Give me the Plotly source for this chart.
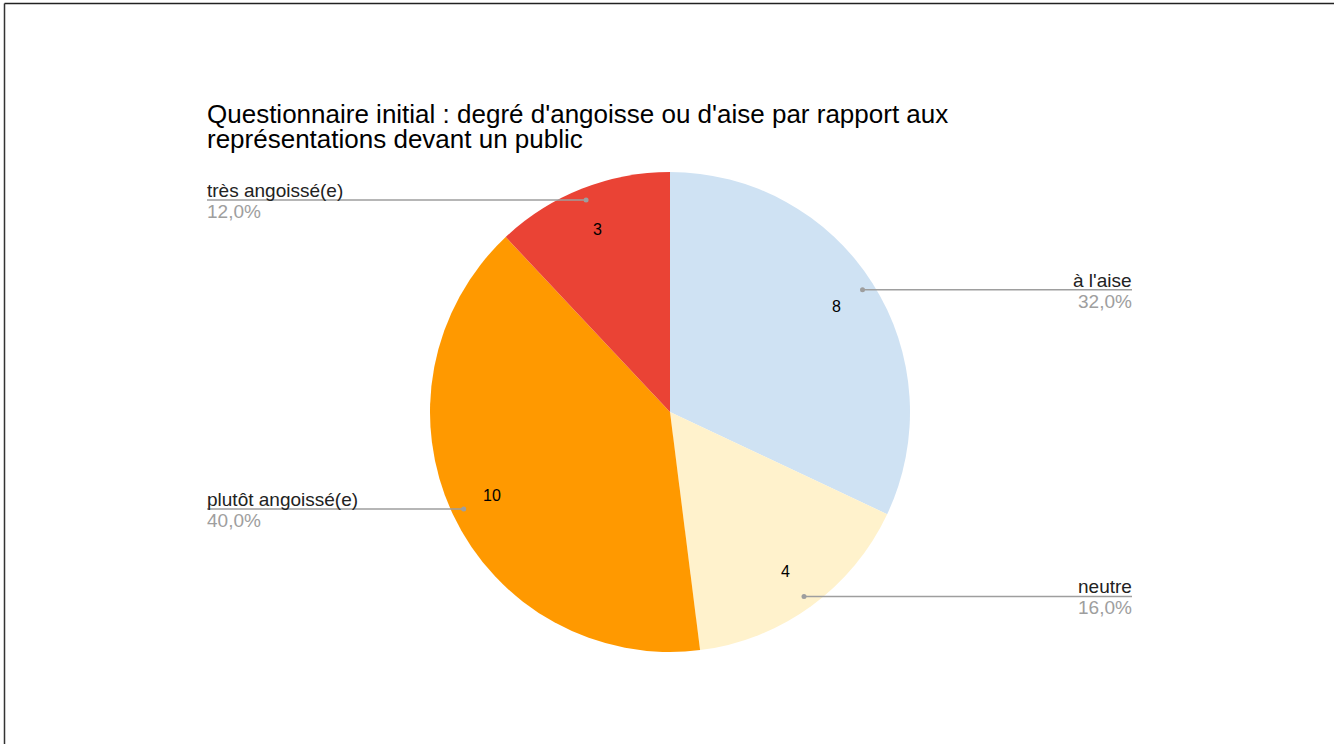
import math
import plotly.graph_objects as go

# ---- data ----
categories = ["à l'aise", "neutre", "plutôt angoissé(e)", "très angoissé(e)"]
values = [8, 4, 10, 3]
colors = ["#cfe2f3", "#fff2cc", "#ff9900", "#ea4335"]
title_lines = ["Questionnaire initial : degré d'angoisse ou d'aise par rapport aux",
               "représentations devant un public"]

W, H = 1334, 744
CX, CY, R = 670, 412, 240
LEFT_X, RIGHT_X = 207, 1132
FONT = "Liberation Sans, Arial, sans-serif"


def px(x):
    return x / W


def py(y):
    return (H - y) / H


fig = go.Figure(go.Pie(
    labels=categories,
    values=values,
    sort=False,
    direction="clockwise",
    rotation=0,
    marker=dict(colors=colors, line=dict(width=0)),
    textinfo="none",
    hoverinfo="skip",
    showlegend=False,
    domain=dict(x=[px(CX - R), px(CX + R)], y=[py(CY + R), py(CY - R)]),
))

annotations = []
shapes = []

# title (two lines, tight spacing)
for i, line in enumerate(title_lines):
    base = 123 + i * 25
    annotations.append(dict(
        x=px(LEFT_X), y=py(base - 9), xref="paper", yref="paper",
        text=line, showarrow=False, xanchor="left", yanchor="middle",
        borderpad=0, xshift=-1,
        font=dict(family=FONT, size=26, color="#000000")))

total = sum(values)
cum = 0
for cat, v in zip(categories, values):
    mid = (cum + v / 2) / total * 2 * math.pi
    cum += v
    s, c = math.sin(mid), math.cos(mid)
    # value label inside the slice
    annotations.append(dict(
        x=px(CX + 0.82 * R * s), y=py(CY - 0.82 * R * c),
        xref="paper", yref="paper", text=str(v), showarrow=False,
        xanchor="center", yanchor="middle",
        font=dict(family=FONT, size=16, color="#000000")))
    # leader line
    dx, dy = CX + 0.95 * R * s, CY - 0.95 * R * c
    right = s > 0
    lx = RIGHT_X if right else LEFT_X
    shapes.append(dict(type="line", xref="paper", yref="paper",
                       x0=px(dx), y0=py(dy), x1=px(lx), y1=py(dy),
                       line=dict(color="#9e9e9e", width=1.5)))
    shapes.append(dict(type="circle", xref="paper", yref="paper",
                       x0=px(dx - 2.5), y0=py(dy - 2.5), x1=px(dx + 2.5), y1=py(dy + 2.5),
                       fillcolor="#9e9e9e", line=dict(width=0)))
    anchor = "right" if right else "left"
    shift = 1 if right else -1
    pct = f"{v / total * 100:.1f}%".replace(".", ",")
    annotations.append(dict(
        x=px(lx), y=py(dy - 3 - 6.6), xref="paper", yref="paper",
        text=cat, showarrow=False, xanchor=anchor, yanchor="middle",
        borderpad=0, xshift=shift,
        font=dict(family=FONT, size=19, color="#222222")))
    annotations.append(dict(
        x=px(lx), y=py(dy + 18 - 6.6), xref="paper", yref="paper",
        text=pct, showarrow=False, xanchor=anchor, yanchor="middle",
        borderpad=0, xshift=shift,
        font=dict(family=FONT, size=19, color="#9e9e9e")))

# frame edges visible at top and left
shapes.append(dict(type="line", xref="paper", yref="paper",
                   x0=px(4.5), y0=py(3.5), x1=1, y1=py(3.5),
                   line=dict(color="#222222", width=1.5)))
shapes.append(dict(type="line", xref="paper", yref="paper",
                   x0=px(4.5), y0=py(3.5), x1=px(4.5), y1=0,
                   line=dict(color="#333333", width=1.5)))

fig.update_layout(
    width=W, height=H, autosize=False,
    margin=dict(l=0, r=0, t=0, b=0),
    paper_bgcolor="#ffffff", plot_bgcolor="#ffffff",
    annotations=annotations, shapes=shapes,
    font=dict(family=FONT),
)

fig.write_html("out.html", config={"displayModeBar": False},
               post_script="document.body.style.margin='0';document.body.style.overflow='hidden';")
